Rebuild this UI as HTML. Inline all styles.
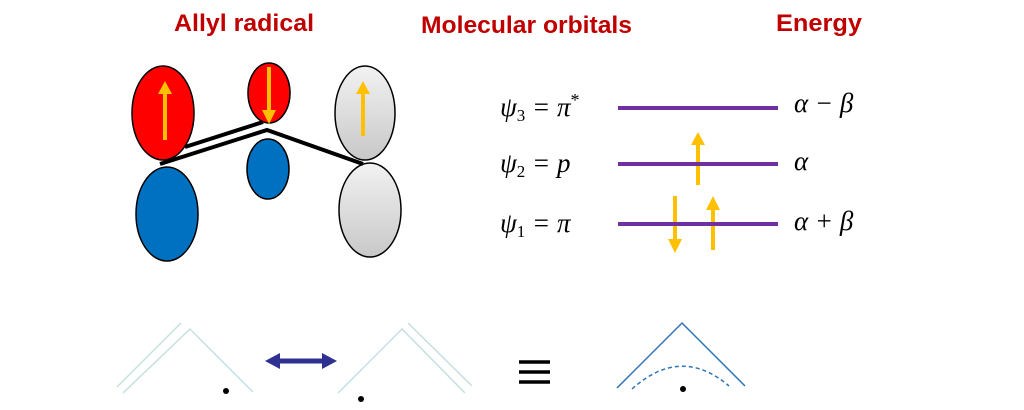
<!DOCTYPE html>
<html><head><meta charset="utf-8"><style>
body{margin:0;background:#fff;}
svg{display:block}
.h{font-family:"Liberation Sans",sans-serif;font-weight:bold;font-size:24px;fill:#c00000}
.m{font-family:"Liberation Serif",serif;font-style:italic;font-size:27px;fill:#000}
.s{font-style:normal;font-size:17px}
</style></head><body>
<svg width="1024" height="410" viewBox="0 0 1024 410" xmlns="http://www.w3.org/2000/svg">
<defs>
<linearGradient id="g" x1="0" y1="0" x2="0" y2="1"><stop offset="0" stop-color="#f2f2f2"/><stop offset="1" stop-color="#c8c8c8"/></linearGradient>
</defs>
<text class="h" x="174" y="31" textLength="140" lengthAdjust="spacingAndGlyphs">Allyl radical</text>
<text class="h" x="421" y="33" textLength="211" lengthAdjust="spacingAndGlyphs">Molecular orbitals</text>
<text class="h" x="776" y="31" textLength="86" lengthAdjust="spacingAndGlyphs">Energy</text>

<ellipse cx="163" cy="113" rx="31" ry="47" fill="#ff0000" stroke="#000" stroke-width="1.5"/>
<ellipse cx="167" cy="214" rx="31" ry="47" fill="#0070c0" stroke="#000" stroke-width="1.5"/>
<ellipse cx="269" cy="93" rx="21" ry="30" fill="#ff0000" stroke="#000" stroke-width="1.5"/>
<ellipse cx="268" cy="169" rx="21" ry="30" fill="#0070c0" stroke="#000" stroke-width="1.5"/>
<ellipse cx="365" cy="113" rx="30" ry="47" fill="url(#g)" stroke="#000" stroke-width="1.5"/>
<ellipse cx="370" cy="210" rx="31" ry="47" fill="url(#g)" stroke="#000" stroke-width="1.5"/>
<polyline points="160,164 267,130 363,164" fill="none" stroke="#000" stroke-width="4"/>
<line x1="185" y1="147" x2="263" y2="122" stroke="#000" stroke-width="4"/>

<g stroke="#ffc000" stroke-width="4" fill="#ffc000">
<line x1="165" y1="140" x2="165" y2="92"/><polygon points="158,94 172,94 165,81" stroke="none"/>
<line x1="269" y1="67" x2="269" y2="112"/><polygon points="262,110 276,110 269,124" stroke="none"/>
<line x1="363" y1="136" x2="363" y2="92"/><polygon points="356,94 370,94 363,81" stroke="none"/>
<line x1="698" y1="185" x2="698" y2="143"/><polygon points="691,145 705,145 698,132" stroke="none"/>
<line x1="675" y1="196" x2="675" y2="241"/><polygon points="668,239 682,239 675,253" stroke="none"/>
<line x1="713" y1="250" x2="713" y2="208"/><polygon points="706,210 720,210 713,196" stroke="none"/>
</g>
<g stroke="#7030a0" stroke-width="4">
<line x1="618" y1="108" x2="778" y2="108"/>
<line x1="618" y1="164" x2="778" y2="164"/>
<line x1="618" y1="224" x2="778" y2="224"/>
</g>
<text class="m" x="500" y="116">ψ<tspan class="s" dy="5">3</tspan><tspan dy="-5"> = π</tspan><tspan font-size="18" font-style="normal" dy="-10">*</tspan></text>
<text class="m" x="500" y="172">ψ<tspan class="s" dy="5">2</tspan><tspan dy="-5"> = p</tspan></text>
<text class="m" x="500" y="232">ψ<tspan class="s" dy="5">1</tspan><tspan dy="-5"> = π</tspan></text>
<text class="m" x="794" y="112">α − β</text>
<text class="m" x="794" y="170">α</text>
<text class="m" x="794" y="230">α + β</text>

<g stroke="#c5e0e0" stroke-width="1.5" fill="none">
<line x1="117" y1="387" x2="181" y2="323"/>
<polyline points="123,393 190,329 253,392"/>
<polyline points="338,393 402,329 465,393"/>
<line x1="408" y1="323" x2="472" y2="386"/>
</g>
<circle cx="226" cy="391" r="3" fill="#000"/>
<circle cx="361" cy="399" r="3" fill="#000"/>
<line x1="275" y1="361" x2="326" y2="361" stroke="#2e3192" stroke-width="5"/>
<polygon points="265,361 280,353 280,369" fill="#2e3192"/>
<polygon points="337,361 322,353 322,369" fill="#2e3192"/>
<g stroke="#000" stroke-width="3.5"><line x1="519" y1="362" x2="550" y2="362"/><line x1="519" y1="372" x2="550" y2="372"/><line x1="519" y1="382" x2="550" y2="382"/></g>
<polyline points="617,388 682,323 745,386" fill="none" stroke="#2e75b6" stroke-width="1.5"/>
<path d="M632,389 Q681,345 729,386" fill="none" stroke="#2e75b6" stroke-width="1.5" stroke-dasharray="4,3"/>
<circle cx="683" cy="389" r="3" fill="#000"/>
</svg>
</body></html>
